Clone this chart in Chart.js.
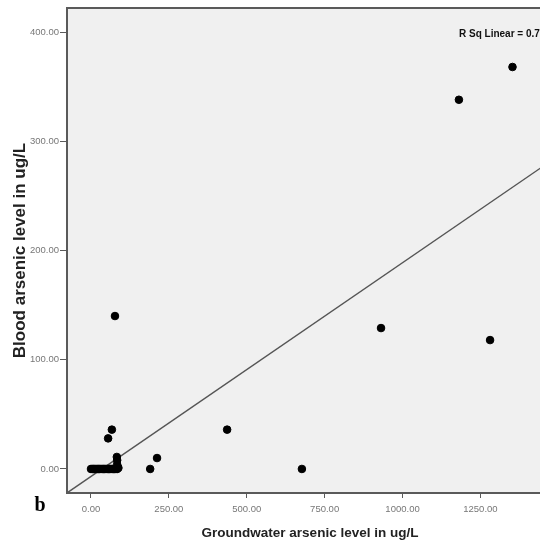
<!DOCTYPE html>
<html>
<head>
<meta charset="utf-8">
<script src="https://cdn.jsdelivr.net/npm/chart.js@4/dist/chart.umd.min.js"></script>
<style>
    html, body { margin: 0; padding: 0; background: #fff; overflow: hidden; }
    #wrap { width: 540px; height: 548px; overflow: hidden; }
</style>
</head>
<body>
<div id="wrap"><canvas id="scatterChart" width="560" height="548"></canvas></div>
<script>
// Groundwater arsenic (x) against blood arsenic (y), ug/L
const groundwater = [0, 4, 8, 12, 16, 20, 24, 28, 32, 36, 40, 44, 48, 52, 56, 60, 64, 68, 72, 76, 80, 84,
    88, 84, 84, 83, 55, 67, 77, 190, 212, 437, 677, 931, 1181, 1281, 1353];
const blood = [0, 0, 0, 0, 0, 0, 0, 0, 0, 0, 0, 0, 0, 0, 0, 0, 0, 0, 0, 0, 0, 0,
    1, 4, 8, 11, 28, 36, 140, 0, 10, 36, 0, 129, 338, 118, 368];

const xTicks = [0, 250, 500, 750, 1000, 1250];
const yTicks = [0, 100, 200, 300, 400];

// fit line
const fitSlope = 0.1957;
const fitIntercept = -6.9;
const rSqText = 'R Sq Linear = 0.7';

const xMin = -77, xMax = 1483;
const yMin = -22, yMax = 422;

const points = groundwater.map((g, i) => ({ x: g, y: blood[i] }));
const fitLine = [xMin, xMax].map(x => ({ x: x, y: fitIntercept + fitSlope * x }));

const frameColor = '#5a5a5a';
const tickFont = { family: "'Liberation Sans', Arial, sans-serif", size: 9.5 };

const framePlugin = {
    id: 'frame',
    beforeDraw(chart) {
        const { ctx, chartArea: a } = chart;
        ctx.save();
        ctx.fillStyle = '#ffffff';
        ctx.fillRect(0, 0, chart.width, chart.height);
        ctx.fillStyle = '#f0f0f0';
        ctx.fillRect(a.left, a.top, a.right - a.left, a.bottom - a.top);
        ctx.restore();
    },
    afterDraw(chart) {
        const { ctx, chartArea: a } = chart;
        ctx.save();
        ctx.strokeStyle = frameColor;
        ctx.lineWidth = 2;
        ctx.strokeRect(a.left, a.top, a.right - a.left, a.bottom - a.top);

        ctx.fillStyle = '#111';
        ctx.textBaseline = 'middle';
        ctx.textAlign = 'left';
        ctx.font = "bold 10px 'Liberation Sans', Arial, sans-serif";
        ctx.fillText(rSqText, a.left + 392, a.top + 26);

        ctx.fillStyle = '#000';
        ctx.textAlign = 'center';
        ctx.font = "bold 20px 'Liberation Serif', serif";
        ctx.fillText('b', a.left - 27, a.bottom + 13);
        ctx.restore();
    }
};

new Chart(document.getElementById('scatterChart'), {
    type: 'scatter',
    data: {
        datasets: [
            {
                label: 'Cases',
                data: points,
                backgroundColor: '#000',
                borderColor: '#000',
                pointRadius: 3.8,
                pointHoverRadius: 3.8
            },
            {
                type: 'line',
                label: 'Fit',
                data: fitLine,
                borderColor: '#555',
                borderWidth: 1.4,
                pointRadius: 0,
                fill: false
            }
        ]
    },
    options: {
        responsive: false,
        animation: false,
        layout: { padding: { top: 8, right: 7, left: 0, bottom: 0 } },
        plugins: {
            legend: { display: false },
            tooltip: { enabled: false }
        },
        scales: {
            x: {
                type: 'linear',
                position: 'bottom',
                min: xMin,
                max: xMax,
                afterBuildTicks: s => { s.ticks = xTicks.map(v => ({ value: v })); },
                afterFit: s => { s.height = 55; },
                ticks: {
                    callback: v => v.toFixed(2),
                    font: tickFont,
                    color: '#777',
                    padding: 6,
                    maxRotation: 0
                },
                grid: { drawOnChartArea: false, tickLength: 5, color: frameColor, tickWidth: 1 },
                border: { color: frameColor, width: 2 },
                title: {
                    display: true,
                    text: 'Groundwater arsenic level in ug/L',
                    color: '#222',
                    font: { family: "'Liberation Sans', Arial, sans-serif", size: 13.5, weight: 'bold' },
                    padding: { top: 0, bottom: 7 }
                }
            },
            y: {
                type: 'linear',
                min: yMin,
                max: yMax,
                afterBuildTicks: s => { s.ticks = yTicks.map(v => ({ value: v })); },
                afterFit: s => { s.width = 67; },
                ticks: {
                    callback: v => v.toFixed(2),
                    font: tickFont,
                    color: '#777',
                    padding: 1
                },
                grid: { drawOnChartArea: false, tickLength: 7, color: frameColor, tickWidth: 1 },
                border: { color: frameColor, width: 2 },
                title: {
                    display: true,
                    text: 'Blood arsenic level in ug/L',
                    color: '#222',
                    font: { family: "'Liberation Sans', Arial, sans-serif", size: 17, weight: 'bold' },
                    padding: { top: 10, bottom: 0 }
                }
            }
        }
    },
    plugins: [framePlugin]
});
</script>
</body>
</html>
